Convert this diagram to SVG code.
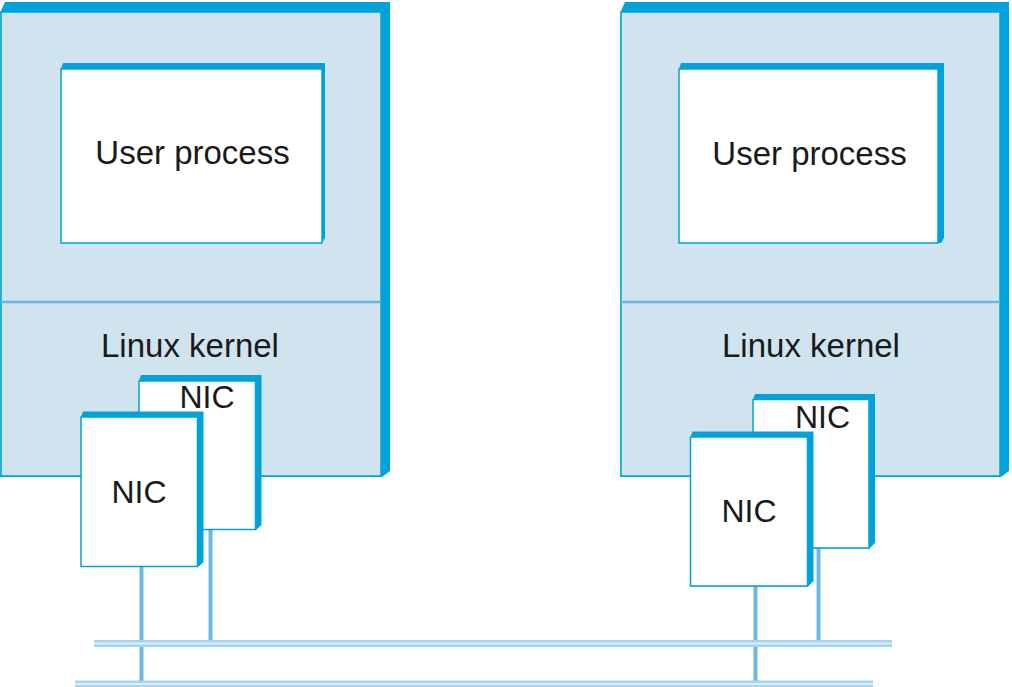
<svg xmlns="http://www.w3.org/2000/svg" width="1012" height="687" viewBox="0 0 1012 687">
<style>
.ext{fill:#00a3d9}
.host{fill:#cfe4ef;stroke:#00a3d9;stroke-width:1.5}
.box{fill:#ffffff;stroke:#00a3d9;stroke-width:1.5}
.div{stroke:#6cb6dd;stroke-width:2.5}
.lbl{font-family:"Liberation Sans",Arial,sans-serif;font-size:32px;fill:#1a1a1a;text-anchor:middle}
.big{font-size:33px}
.drop{stroke:#6cb8de;stroke-width:4;fill:none}
.busO{fill:#a9d5ec}
.busI{fill:#dceef8}
</style>
<rect width="1012" height="687" fill="#ffffff"/>

<g id="host-left">
  <polygon class="ext" points="0.5,12 5,2 390,2 390,471 382,477 0.5,477"/>
  <rect class="host" x="1" y="12" width="380" height="464"/>
  <line class="div" x1="1" y1="302" x2="381" y2="302"/>
  <text class="lbl big" x="190" y="357">Linux kernel</text>
</g>
<g id="user-left">
  <polygon class="ext" points="61,69 63,63 325,63 325,238 322,243 61,243"/>
  <rect class="box" x="61" y="69" width="261" height="174"/>
  <text class="lbl big" x="192.5" y="164">User process</text>
</g>

<g id="host-right">
  <polygon class="ext" points="620.5,12 625,2 1009,2 1009,471 1001,477 620.5,477"/>
  <rect class="host" x="621" y="12" width="379" height="464"/>
  <line class="div" x1="621" y1="302" x2="1000" y2="302"/>
  <text class="lbl big" x="811" y="357">Linux kernel</text>
</g>
<g id="user-right">
  <polygon class="ext" points="679,69 681,63 944,63 944,238 941,243 679,243"/>
  <rect class="box" x="679" y="69" width="259" height="174"/>
  <text class="lbl big" x="809.5" y="165">User process</text>
</g>

<g id="connectors">
  <line class="drop" x1="141.5" y1="566" x2="141.5" y2="681"/>
  <line class="drop" x1="210.5" y1="529" x2="210.5" y2="640"/>
  <line class="drop" x1="755.5" y1="586" x2="755.5" y2="681"/>
  <line class="drop" x1="818.5" y1="548" x2="818.5" y2="640"/>
  <rect class="busO" x="94" y="640" width="798" height="7"/>
  <rect class="busI" x="94" y="642.5" width="798" height="2"/>
  <rect class="busO" x="75" y="680.5" width="798" height="6.5"/>
  <rect class="busI" x="75" y="683" width="798" height="2"/>
</g>

<g id="nic-left-back">
  <polygon class="ext" points="139,381 141,375 261.5,375 261.5,525 256,530 139,530"/>
  <rect class="box" x="139" y="381" width="116.5" height="148.5"/>
  <text class="lbl" x="207" y="408">NIC</text>
</g>
<g id="nic-left-front">
  <polygon class="ext" points="81,417 83,411.5 203.5,411.5 203.5,562 198,567 81,567"/>
  <rect class="box" x="81" y="417" width="116.5" height="149.5"/>
  <text class="lbl" x="139" y="502.5">NIC</text>
</g>

<g id="nic-right-back">
  <polygon class="ext" points="753,399.5 755,394 875,394 875,543 869.5,548.5 753,548.5"/>
  <rect class="box" x="753" y="399.5" width="116" height="148.5"/>
  <text class="lbl" x="822.5" y="428">NIC</text>
</g>
<g id="nic-right-front">
  <polygon class="ext" points="690.5,437 692.5,431.5 813.5,431.5 813.5,581 808,586.5 690.5,586.5"/>
  <rect class="box" x="690.5" y="437" width="117" height="149"/>
  <text class="lbl" x="749" y="521.5">NIC</text>
</g>
</svg>
